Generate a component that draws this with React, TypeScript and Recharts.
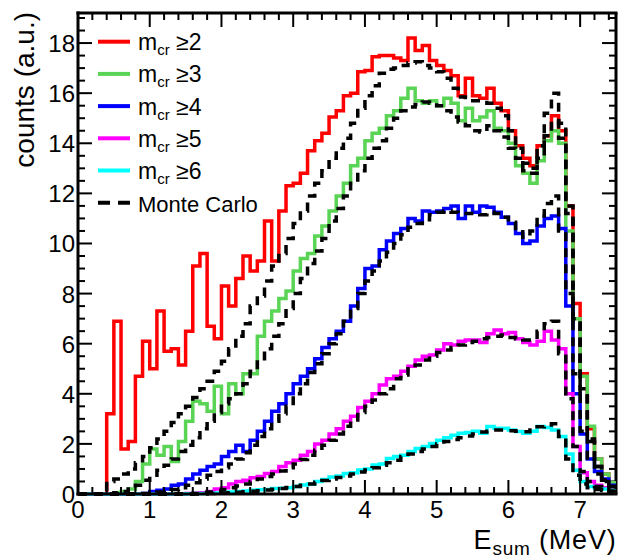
import React from "react";
import { ComposedChart, Line, XAxis, YAxis, Legend, ReferenceLine } from "recharts";

// binning and axes
const BIN_WIDTH = 0.1;
const X_MAX = 7.5;
const Y_MAX = 19.2;
const X_MAJOR = [0, 1, 2, 3, 4, 5, 6, 7];
const X_MINOR_STEP = 0.2;
const Y_MAJOR = [0, 2, 4, 6, 8, 10, 12, 14, 16, 18];
const Y_MINOR_STEP = 0.5;

// measured spectra, one value per 0.1 MeV bin starting at 0 MeV
const mcr2 = [
  0, 0, 0, 0, 3.2, 6.9, 1.8, 2.1, 4.7, 6.1,
  5.0, 7.3, 5.7, 5.8, 5.15, 6.5, 9.1, 9.6, 6.7, 6.2,
  8.3, 7.5, 8.6, 9.5, 8.9, 9.3, 10.9, 9.3, 11.3, 12.3,
  12.4, 12.8, 13.7, 14.1, 14.4, 15.05, 15.3, 15.9, 16.0, 16.85,
  16.9, 17.45, 17.5, 17.5, 17.4, 17.3, 18.2, 17.7, 17.9, 17.3,
  17.1, 16.9, 16.7, 15.9, 16.6, 15.9, 15.8, 16.2, 15.6, 15.3,
  14.5, 13.9, 13.4, 13.1, 13.9, 14.3, 15.1, 14.5, 11.5, 7.6,
  4.8, 2.6, 1.4, 0.8, 0.4,
];
const mcr3 = [
  0, 0, 0, 0, 0, 0.05, 0.1, 0.2, 0.5, 1.2,
  1.8, 1.55, 1.9, 1.3, 2.1, 2.9, 3.7, 3.6, 3.3, 4.3,
  3.2, 4.4, 4.0, 4.8, 4.8, 6.3, 6.9, 7.3, 7.8, 8.1,
  8.9, 9.4, 9.6, 10.3, 10.7, 11.3, 11.9, 12.4, 13.1, 13.4,
  14.1, 14.4, 14.6, 15.1, 15.3, 15.8, 16.2, 15.7, 15.6, 15.7,
  15.5, 15.8, 15.6, 14.9, 15.4, 14.9, 15.05, 15.3, 14.6, 14.5,
  14.0, 13.1, 12.8, 12.4, 13.3, 14.1, 14.5, 14.0, 10.5, 7.0,
  4.7, 2.7, 1.4, 0.8, 0.45,
];
const mcr4 = [
  0, 0, 0, 0, 0, 0, 0, 0, 0, 0.02,
  0.1, 0.15, 0.2, 0.35, 0.4, 0.6, 0.8, 0.95, 1.1, 1.2,
  1.5, 1.7, 1.95, 1.7, 2.15, 2.5, 2.9, 3.3, 3.6, 4.0,
  4.4, 4.7, 5.0, 5.4, 5.85, 6.2, 6.5, 6.9, 7.5, 8.2,
  9.0, 9.1, 9.75, 10.1, 10.4, 10.6, 11.0, 10.9, 11.3, 11.25,
  11.3, 11.4, 11.5, 11.0, 11.5, 11.25, 11.5, 11.45, 11.25, 11.05,
  10.8, 10.4, 10.0, 10.1, 10.7, 11.0, 11.1, 10.6, 7.5, 4.0,
  2.4, 1.4, 0.9, 0.6, 0.35,
];
const mcr5 = [
  0, 0, 0, 0, 0, 0, 0, 0, 0, 0,
  0, 0, 0, 0, 0, 0.02, 0.03, 0.05, 0.1, 0.2,
  0.25, 0.4, 0.5, 0.55, 0.65, 0.7, 0.82, 0.9, 1.1, 1.25,
  1.35, 1.55, 1.7, 2.0, 2.15, 2.4, 2.6, 2.9, 3.1, 3.45,
  3.7, 4.0, 4.35, 4.6, 4.7, 4.9, 5.1, 5.35, 5.5, 5.55,
  5.75, 6.0, 5.95, 6.1, 6.15, 6.15, 6.05, 6.4, 6.55, 6.4,
  6.45, 6.2, 6.05, 5.95, 6.1, 6.5, 6.15, 5.8, 4.0, 1.9,
  0.85, 0.5, 0.35, 0.25, 0.15,
];
const mcr6 = [
  0, 0, 0, 0, 0, 0, 0, 0, 0, 0,
  0, 0, 0, 0, 0, 0.01, 0.02, 0.02, 0.03, 0.04,
  0.05, 0.08, 0.1, 0.12, 0.15, 0.17, 0.18, 0.22, 0.23, 0.25,
  0.3, 0.36, 0.4, 0.5, 0.58, 0.68, 0.72, 0.82, 0.85, 0.96,
  1.0, 1.16, 1.2, 1.42, 1.5, 1.55, 1.7, 1.82, 1.9, 2.02,
  2.15, 2.25, 2.35, 2.42, 2.45, 2.5, 2.42, 2.69, 2.62, 2.62,
  2.55, 2.49, 2.42, 2.5, 2.69, 2.65, 2.55, 2.3, 1.6, 0.95,
  0.5, 0.3, 0.23, 0.2, 0.15,
];

// Monte Carlo spectra, same binning
const mc2 = [
  0, 0, 0, 0, 0.5, 0.6, 0.8, 1.0, 1.25, 1.5,
  1.85, 2.2, 2.5, 2.85, 3.2, 3.5, 3.85, 4.2, 4.5, 4.9,
  5.3, 5.8, 6.3, 6.8, 7.5, 7.9, 8.5, 9.1, 9.6, 10.2,
  10.8, 11.3, 11.9, 12.4, 12.9, 13.4, 13.8, 14.2, 14.8, 15.4,
  15.9, 16.3, 16.8, 16.95, 17.0, 17.1, 17.2, 17.25, 17.1, 17.0,
  16.85, 16.6, 16.2, 15.85, 15.7, 15.7, 15.7, 15.6, 15.4, 15.1,
  14.5, 13.8, 13.2, 13.0, 13.9, 15.2, 16.0, 14.8, 11.5, 7.0,
  4.2, 2.2, 1.1, 0.55, 0.3,
];
const mc3 = [
  0, 0, 0, 0, 0, 0.05, 0.1, 0.2, 0.35, 0.55,
  0.75, 0.95, 1.15, 1.4, 1.7, 1.95, 2.25, 2.6, 2.9, 3.25,
  3.6, 3.8, 4.0, 4.4, 4.9, 5.4, 5.8, 6.3, 6.8, 7.4,
  8.0, 8.6, 9.2, 9.7, 10.2, 10.9, 11.4, 11.9, 12.4, 12.9,
  13.4, 13.8, 14.1, 14.6, 15.0, 15.3, 15.45, 15.55, 15.65, 15.6,
  15.5, 15.3, 15.05, 14.85, 14.7, 14.5, 14.45, 14.7, 14.5, 14.25,
  13.8, 13.4, 12.9, 12.8, 13.4, 14.3, 14.9, 14.2, 11.2, 6.8,
  4.0, 2.1, 1.1, 0.55, 0.3,
];
const mc4 = [
  0, 0, 0, 0, 0, 0, 0, 0, 0, 0.02,
  0.05, 0.08, 0.12, 0.18, 0.25, 0.35, 0.45, 0.6, 0.75, 0.9,
  1.05, 1.2, 1.4, 1.65, 1.95, 2.3, 2.6, 2.9, 3.2, 3.5,
  4.0, 4.4, 4.85, 5.2, 5.6, 6.0, 6.4, 6.9, 7.4, 8.0,
  8.5, 8.9, 9.3, 9.65, 10.0, 10.35, 10.65, 10.8, 10.95, 11.15,
  11.25, 11.3, 11.25, 11.2, 11.2, 11.2, 11.15, 11.25, 11.2, 11.05,
  10.85, 10.6, 10.25, 10.5, 11.1, 11.6, 11.9, 10.5, 8.0, 4.8,
  2.5, 1.3, 0.8, 0.5, 0.25,
];
const mc5 = [
  0, 0, 0, 0, 0, 0, 0, 0, 0, 0,
  0, 0, 0, 0, 0, 0, 0.02, 0.05, 0.08, 0.12,
  0.18, 0.25, 0.32, 0.4, 0.5, 0.6, 0.7, 0.8, 0.92, 1.05,
  1.2, 1.38, 1.55, 1.75, 1.95, 2.15, 2.4, 2.7, 2.95, 3.25,
  3.5, 3.75, 4.0, 4.2, 4.6, 4.75, 5.0, 5.15, 5.35, 5.5,
  5.65, 5.75, 5.85, 5.95, 6.05, 6.1, 6.2, 6.25, 6.3, 6.35,
  6.25, 6.2, 6.15, 6.15, 6.5, 6.8, 6.9, 5.6, 3.8, 1.9,
  0.9, 0.5, 0.3, 0.2, 0.12,
];
const mc6 = [
  0, 0, 0, 0, 0, 0, 0, 0, 0, 0,
  0, 0, 0, 0, 0, 0, 0, 0, 0.02, 0.03,
  0.04, 0.05, 0.07, 0.09, 0.11, 0.13, 0.16, 0.19, 0.22, 0.26,
  0.3, 0.35, 0.4, 0.47, 0.54, 0.6, 0.66, 0.72, 0.8, 0.88,
  0.96, 1.05, 1.15, 1.25, 1.35, 1.5, 1.6, 1.7, 1.8, 1.9,
  2.0, 2.1, 2.18, 2.25, 2.32, 2.4, 2.47, 2.5, 2.55, 2.55,
  2.52, 2.5, 2.48, 2.55, 2.68, 2.75, 2.8, 2.3, 1.4, 0.75,
  0.4, 0.25, 0.18, 0.14, 0.1,
];

const SERIES = [
  { key: "mcr2", mult: "2", color: "#ff0000", values: mcr2 },
  { key: "mcr3", mult: "3", color: "#59d454", values: mcr3 },
  { key: "mcr4", mult: "4", color: "#0000ff", values: mcr4 },
  { key: "mcr5", mult: "5", color: "#ff00ff", values: mcr5 },
  { key: "mcr6", mult: "6", color: "#00ffff", values: mcr6 },
];
const MC_SERIES = [
  { key: "mc2", values: mc2 },
  { key: "mc3", values: mc3 },
  { key: "mc4", values: mc4 },
  { key: "mc5", values: mc5 },
  { key: "mc6", values: mc6 },
];

// one row per bin edge; the last edge repeats the last bin so the step closes at 7.5
const data = Array.from({ length: mcr2.length + 1 }, (_, i) => {
  const row: Record<string, number> = { E: +(i * BIN_WIDTH).toFixed(2) };
  [...SERIES, ...MC_SERIES].forEach((s) => {
    row[s.key] = s.values[Math.min(i, s.values.length - 1)];
  });
  return row;
});

const xTicks = Array.from(
  { length: Math.round(X_MAX / X_MINOR_STEP) },
  (_, i) => +(i * X_MINOR_STEP).toFixed(1)
);
const yTicks = Array.from(
  { length: Math.floor(Y_MAX / Y_MINOR_STEP) + 1 },
  (_, i) => +(i * Y_MINOR_STEP).toFixed(1)
);

// the chart covers the whole 619x559 page, placed at its top-left corner
const CHART_W = 619;
const CHART_H = 559;
const LEFT_W = 78;
const TOP_H = 13;
const BOTTOM_H = 65;
const RIGHT_M = 3;
const PX_PER_MEV = (CHART_W - LEFT_W - RIGHT_M) / X_MAX;

const FONT = "'Liberation Sans', Arial, Helvetica, sans-serif";
const MAJOR_LEN = 14;
const MINOR_LEN = 7;
const AXIS = { stroke: "#000", strokeWidth: 3, strokeLinecap: "square" as const };

const isXMajor = (v: number) => X_MAJOR.includes(v);
const isYMajor = (v: number) => Y_MAJOR.includes(v);

function BottomTick({ x, y, payload }: any) {
  const major = isXMajor(payload.value);
  return (
    <g>
      <line x1={x} x2={x} y1={y} y2={y - (major ? MAJOR_LEN : MINOR_LEN)} stroke="#000" strokeWidth={2} />
      {major && (
        <text x={x} y={y + 24} textAnchor="middle" fontSize={24} fontFamily={FONT} fill="#000">
          {payload.value}
        </text>
      )}
    </g>
  );
}

function TopTick({ x, y, payload }: any) {
  const major = isXMajor(payload.value);
  return <line x1={x} x2={x} y1={y} y2={y + (major ? MAJOR_LEN : MINOR_LEN)} stroke="#000" strokeWidth={2} />;
}

function LeftTick({ x, y, payload }: any) {
  const major = isYMajor(payload.value);
  return (
    <g>
      <line x1={x} x2={x + (major ? MAJOR_LEN : MINOR_LEN)} y1={y} y2={y} stroke="#000" strokeWidth={2} />
      {major && (
        <text x={x - 3} y={y + 9} textAnchor="end" fontSize={24} fontFamily={FONT} fill="#000">
          {payload.value}
        </text>
      )}
    </g>
  );
}

const yTitle = () => (
  <text transform="translate(33.5, 12) rotate(-90)" textAnchor="end" fontSize={28} fontFamily={FONT} fill="#000">
    counts (a.u.)
  </text>
);

const xTitle = () => (
  <text
    x={CHART_W - RIGHT_M + 0.5}
    y={549}
    textAnchor="end"
    fontSize={27}
    letterSpacing={0.8}
    fontFamily={FONT}
    fill="#000"
    xmlSpace="preserve"
  >
    E
    <tspan fontSize={19} dy={6}>sum</tspan>
    <tspan dy={-6}> (MeV)</tspan>
  </text>
);

function LegendBox() {
  const x1 = 98;
  const x2 = 130;
  const rowY = (i: number) => 41.7 + i * 32.2;
  return (
    <svg width={310} height={240} style={{ display: "block" }}>
      {SERIES.map((s, i) => (
        <g key={s.key}>
          <line x1={x1} x2={x2} y1={rowY(i)} y2={rowY(i)} stroke={s.color} strokeWidth={4} />
          <text x={138} y={rowY(i) + 8.5} fontSize={23} fontFamily={FONT} fill="#000" xmlSpace="preserve">
            m
            <tspan fontSize={15} dy={5}>cr</tspan>
            <tspan dy={-5}> {"\u2265"}{s.mult}</tspan>
          </text>
        </g>
      ))}
      <line x1={x1} x2={x2} y1={rowY(5)} y2={rowY(5)} stroke="#000" strokeWidth={4} strokeDasharray="12 8" />
      <text x={138} y={rowY(5) + 9} fontSize={22} fontFamily={FONT} fill="#000">
        Monte Carlo
      </text>
    </svg>
  );
}

export default function App() {
  return (
    <div style={{ position: "absolute", left: 0, top: 0, width: CHART_W, height: CHART_H, overflow: "hidden" }}>
      <ComposedChart
        width={CHART_W}
        height={CHART_H}
        data={data}
        margin={{ top: 0, right: RIGHT_M, bottom: 0, left: 0 }}
      >
        <XAxis
          dataKey="E"
          type="number"
          scale="linear"
          domain={[0, X_MAX]}
          ticks={xTicks}
          interval={0}
          height={BOTTOM_H}
          axisLine={AXIS}
          tickLine={false}
          tickSize={0}
          tickMargin={0}
          tick={<BottomTick />}
          label={xTitle}
        />
        <XAxis
          xAxisId="top"
          dataKey="E"
          orientation="top"
          type="number"
          scale="linear"
          domain={[0, X_MAX]}
          ticks={xTicks}
          interval={0}
          height={TOP_H}
          axisLine={AXIS}
          tickLine={false}
          tickSize={0}
          tickMargin={0}
          tick={<TopTick />}
        />
        <YAxis
          type="number"
          domain={[0, Y_MAX]}
          ticks={yTicks}
          interval={0}
          width={LEFT_W}
          axisLine={AXIS}
          tickLine={false}
          tickSize={0}
          tickMargin={0}
          tick={<LeftTick />}
          label={yTitle}
        />
        {/* invisible copy bound to the top axis so it shares the main x scale */}
        <Line
          xAxisId="top"
          dataKey="mcr2"
          stroke="none"
          strokeWidth={0}
          dot={false}
          activeDot={false}
          legendType="none"
          isAnimationActive={false}
        />
        {/* right side of the frame with its inward ticks */}
        <ReferenceLine x={X_MAX} stroke="#000" strokeWidth={3} ifOverflow="visible" />
        {yTicks.map((v) => (
          <ReferenceLine
            key={`rt-${v}`}
            segment={[
              { x: X_MAX - (isYMajor(v) ? MAJOR_LEN : MINOR_LEN) / PX_PER_MEV, y: v },
              { x: X_MAX, y: v },
            ]}
            stroke="#000"
            strokeWidth={2}
            ifOverflow="visible"
          />
        ))}
        {SERIES.map((s) => (
          <Line
            key={s.key}
            dataKey={s.key}
            type="stepAfter"
            stroke={s.color}
            strokeWidth={3.5}
            dot={false}
            activeDot={false}
            isAnimationActive={false}
          />
        ))}
        {MC_SERIES.map((s) => (
          <Line
            key={s.key}
            dataKey={s.key}
            type="stepAfter"
            stroke="#000"
            strokeWidth={3.5}
            strokeDasharray="9 7"
            dot={false}
            activeDot={false}
            isAnimationActive={false}
          />
        ))}
        <Legend
          layout="vertical"
          align="center"
          verticalAlign="middle"
          wrapperStyle={{ left: 0, top: 0, width: 310, height: 240, pointerEvents: "none" }}
          content={() => <LegendBox />}
        />
      </ComposedChart>
    </div>
  );
}
